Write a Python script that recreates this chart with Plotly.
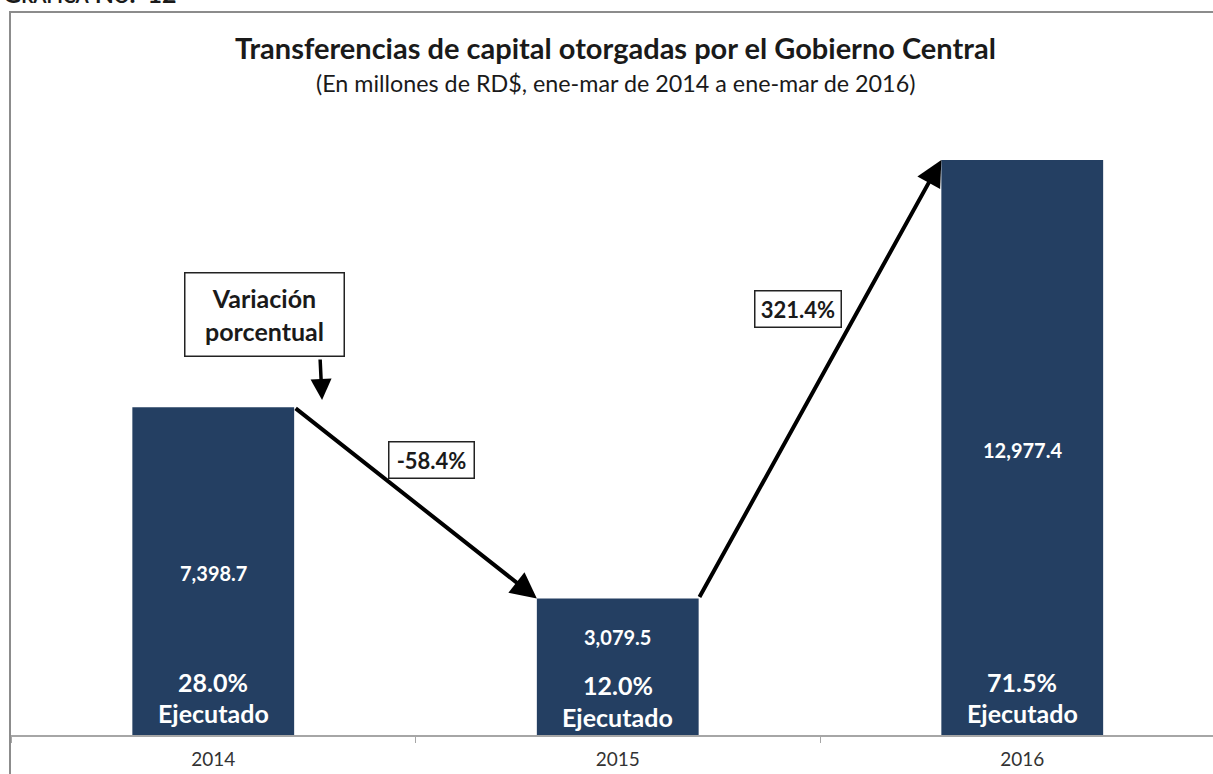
import plotly.graph_objects as go

# Data
YEARS = ['2014', '2015', '2016']
TRANSFERS = [7398.7, 3079.5, 12977.4]          # millones de RD$
EXECUTED_PCT = [28.0, 12.0, 71.5]

# Style
BAR_COLOR = '#243F62'
FRAME_GRAY = '#8C8C8C'
AXIS_GRAY = '#A6A6A6'
TEXT_DARK = '#1A1A1A'
FONT = 'Lato'

# Label placement (data units on y, pixel shifts from the base)
VALUE_LABEL_Y = [3656, 2212, 6432]
PCT_SHIFT = [53, 50, 53]
EJEC_SHIFT = [22, 18, 22]
BAR_WIDTH = 0.4
Y_MAX = 14331

fig = go.Figure()

fig.add_trace(go.Bar(
    x=YEARS,
    y=TRANSFERS,
    width=BAR_WIDTH,
    marker=dict(color=BAR_COLOR, line=dict(width=0)),
    hoverinfo='skip',
    showlegend=False
))

annotations = []

# value and executed labels inside bars
for i, (val, pct) in enumerate(zip(TRANSFERS, EXECUTED_PCT)):
    annotations.append(dict(
        x=i, y=VALUE_LABEL_Y[i], xref='x', yref='y', yanchor='middle',
        text=f'<b>{val:,.1f}</b>', showarrow=False,
        font=dict(family=FONT, size=20, color='white')
    ))
    annotations.append(dict(
        x=i, y=0, xref='x', yref='y', yanchor='middle', yshift=PCT_SHIFT[i],
        text=f'<b>{pct:.1f}%</b>', showarrow=False,
        font=dict(family=FONT, size=25, color='white')
    ))
    annotations.append(dict(
        x=i, y=0, xref='x', yref='y', yanchor='middle', yshift=EJEC_SHIFT[i],
        text='<b>Ejecutado</b>', showarrow=False,
        font=dict(family=FONT, size=25, color='white')
    ))

# arrows between bar tops
half = BAR_WIDTH / 2
for i in range(len(TRANSFERS) - 1):
    annotations.append(dict(
        x=i + 1 - half, y=TRANSFERS[i + 1], xref='x', yref='y',
        ax=i + half, ay=TRANSFERS[i], axref='x', ayref='y',
        text='', showarrow=True, arrowhead=2, arrowsize=1.3,
        arrowwidth=4, arrowcolor='black', standoff=0, startstandoff=0
    ))

# percent change boxes
change = [(TRANSFERS[i + 1] / TRANSFERS[i] - 1) * 100 for i in range(len(TRANSFERS) - 1)]
box_pos = [(0.539, 6200), (1.446, 9620)]
box_w = [78, 79]
for (bx, by), c, w in zip(box_pos, change, box_w):
    annotations.append(dict(
        x=bx, y=by, xref='x', yref='y', xanchor='center', yanchor='middle',
        text=f'<b>{c:.1f}%</b>', showarrow=False,
        width=w, height=29,
        font=dict(family=FONT, size=22, color=TEXT_DARK),
        bgcolor='white', bordercolor='#222222', borderwidth=1.5, borderpad=3
    ))

# "Variación porcentual" callout
annotations.append(dict(
    x=0.126, y=9480, xref='x', yref='y', xanchor='center', yanchor='middle',
    text='<b>Variación<br>porcentual</b>', showarrow=False,
    width=142, height=66,
    font=dict(family=FONT, size=25, color=TEXT_DARK),
    bgcolor='white', bordercolor='#222222', borderwidth=1.5, borderpad=8
))
annotations.append(dict(
    x=0.269, y=7561, xref='x', yref='y', ax=-2, ay=-42,
    text='', showarrow=True, arrowhead=2, arrowsize=1.2,
    arrowwidth=3.5, arrowcolor='black', standoff=0
))

plot_left, plot_w = 11, 1202
plot_top, plot_h = 100, 635


def px_to_paper(px, py):
    return (px - plot_left) / plot_w, 1 + (plot_top - py) / plot_h


# titles
tx, ty = px_to_paper(615, 47)
annotations.append(dict(
    x=tx, y=ty, xref='paper', yref='paper', xanchor='center', yanchor='middle',
    showarrow=False,
    text='<b>Transferencias de capital otorgadas por el Gobierno Central</b>',
    font=dict(family=FONT, size=29, color=TEXT_DARK)
))
sx, sy = px_to_paper(615, 83)
annotations.append(dict(
    x=sx, y=sy, xref='paper', yref='paper', xanchor='center', yanchor='middle',
    showarrow=False,
    text='(En millones de RD$, ene-mar de 2014 a ene-mar de 2016)',
    font=dict(family=FONT, size=23.3, color=TEXT_DARK)
))

gx, gy = px_to_paper(1, 10)
annotations.append(dict(
    x=gx, y=gy, xref='paper', yref='paper',
    xanchor='left', yanchor='bottom', showarrow=False,
    text='<b>G<span style="font-size:19px">RÁFICA</span> N<span style="font-size:19px">O</span>.  12</b>',
    font=dict(family=FONT, size=25, color=TEXT_DARK)
))

fx0, fy1 = px_to_paper(10, 12)
fig.update_layout(
    width=1213,
    height=774,
    margin=dict(l=plot_left, r=0, t=plot_top, b=39),
    paper_bgcolor='white',
    plot_bgcolor='white',
    annotations=annotations,
    shapes=[dict(
        type='rect', xref='paper', yref='paper',
        x0=fx0, x1=1.05, y0=-0.3, y1=fy1,
        line=dict(color=FRAME_GRAY, width=2), fillcolor='rgba(0,0,0,0)', layer='below'
    )],
    xaxis=dict(
        type='category',
        range=[-0.5, -0.5 + plot_w / 404.5],
        showline=True, linecolor=AXIS_GRAY, linewidth=2,
        ticks='outside', tickson='boundaries', ticklen=6, tickcolor=AXIS_GRAY,
        ticklabelstandoff=6,
        showgrid=False, zeroline=False,
        tickfont=dict(family=FONT, size=19, color='#333333')
    ),
    yaxis=dict(
        range=[0, Y_MAX], visible=False, showgrid=False, zeroline=False
    ),
    font=dict(family=FONT)
)

fig.write_html('out.html', config={'displayModeBar': False},
               post_script="document.body.style.margin='0';")
